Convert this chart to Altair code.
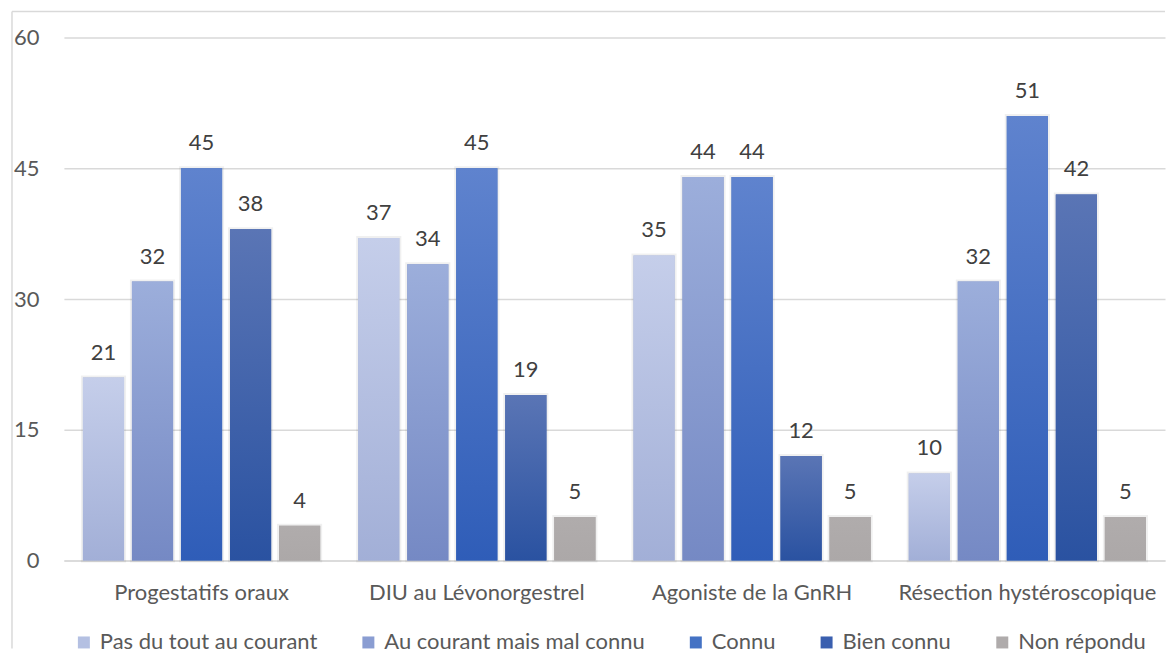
import altair as alt
import pandas as pd

categories = ["Progestatifs oraux", "DIU au Lévonorgestrel", "Agoniste de la GnRH", "Résection hystéroscopique"]
series = ["Pas du tout au courant", "Au courant mais mal connu", "Connu", "Bien connu", "Non répondu"]
pas_du_tout = [21, 37, 35, 10]
au_courant = [32, 34, 44, 32]
connu = [45, 45, 44, 51]
bien_connu = [38, 19, 12, 42]
non_repondu = [4, 5, 5, 5]
y_ticks = [0, 15, 30, 45, 60]

values = [pas_du_tout, au_courant, connu, bien_connu, non_repondu]
rows = []
for s, vals in zip(series, values):
    for c, v in zip(categories, vals):
        rows.append({"cat": c, "series": s, "value": v})
df = pd.DataFrame(rows)

solid = ["#B4C0E2", "#8A9DD2", "#4472C4", "#3A5FAF", "#AFABAB"]
grad_stops = [
    ("#C5CEEA", "#A2AFD7"),
    ("#9CAEDB", "#7589C4"),
    ("#5F83CE", "#2F5DB8"),
    ("#5A75B5", "#2A52A1"),
    ("#B0ACAC", "#ACA8A8"),
]

FONT = "Lato"
FS = 22
W, H = 1103, 524

x_enc = alt.X("cat:N", sort=categories, title=None,
              scale=alt.Scale(paddingInner=0.138, paddingOuter=0.069),
              axis=alt.Axis(labelAngle=0, labelFont=FONT, labelFontSize=FS, labelColor="#595959",
                            labelBaseline="middle", labelPadding=32, ticks=False, tickSize=0,
                            labelLimit=0, domainColor="#D9D9D9", domainWidth=1.5, grid=False))
xo_enc = alt.XOffset("series:N", sort=series, scale=alt.Scale(paddingInner=0.16, paddingOuter=0))
y_enc = alt.Y("value:Q", title=None,
              scale=alt.Scale(domain=[0, 60], nice=False, zero=True),
              axis=alt.Axis(values=y_ticks, labelFont=FONT, labelFontSize=FS, labelColor="#595959",
                            ticks=False, tickSize=0, domain=False, labelPadding=25,
                            gridColor="#D9D9D9", gridWidth=1.5))

base = alt.Chart(df).mark_bar(stroke="#000000", strokeOpacity=0.06, strokeWidth=4).encode(
    x=x_enc, xOffset=xo_enc, y=y_enc,
    color=alt.Color("series:N", sort=series,
                    scale=alt.Scale(domain=series, range=solid),
                    legend=alt.Legend(orient="none", legendX=9, legendY=595, direction="horizontal",
                                      title=None, symbolType="square", symbolSize=144,
                                      symbolStrokeWidth=0, labelFont=FONT, labelFontSize=FS,
                                      labelLimit=0, labelColor="#595959", columnPadding=40,
                                      labelOffset=5)),
)

layers = [base]
for s, (c0, c1) in zip(series, grad_stops):
    grad = {"gradient": "linear", "x1": 0, "y1": 0, "x2": 0, "y2": 1,
            "stops": [{"offset": 0, "color": c0}, {"offset": 1, "color": c1}]}
    layers.append(
        alt.Chart(df).transform_filter(alt.datum.series == s).mark_bar(fill=grad).encode(
            x=x_enc, xOffset=xo_enc, y=y_enc)
    )

labels = alt.Chart(df).mark_text(font=FONT, fontSize=FS, color="#404040", baseline="alphabetic", dy=-18).encode(
    x=x_enc, xOffset=xo_enc, y=y_enc, text="value:Q")
layers.append(labels)

frame_data = alt.Data(values=[{"k": 1}])
left_rule = alt.Chart(frame_data).mark_rule(color="#D9D9D9", strokeWidth=1.5).encode(
    x=alt.value(-52), y=alt.value(-26), y2=alt.value(612))
top_rule = alt.Chart(frame_data).mark_rule(color="#D9D9D9", strokeWidth=1.5).encode(
    x=alt.value(-52), x2=alt.value(W), y=alt.value(-26))
layers += [left_rule, top_rule]

chart = alt.layer(*layers).properties(
    width=W, height=H,
    padding={"left": 3, "top": 2, "right": 0, "bottom": 0},
    background="white",
).configure_view(stroke=None)

chart.save("out.html", embed_options={"renderer": "svg", "actions": False})
